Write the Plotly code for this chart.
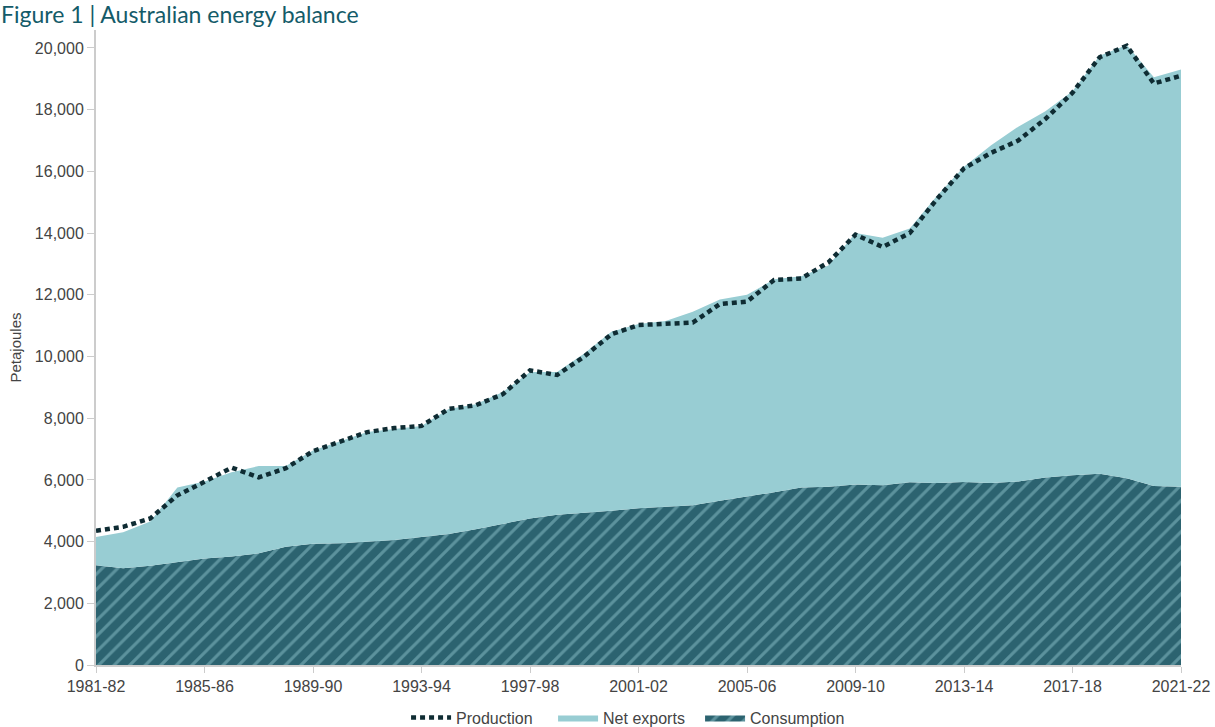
import plotly.graph_objects as go

years = ["1981-82","1982-83","1983-84","1984-85","1985-86","1986-87","1987-88","1988-89",
         "1989-90","1990-91","1991-92","1992-93","1993-94","1994-95","1995-96","1996-97",
         "1997-98","1998-99","1999-00","2000-01","2001-02","2002-03","2003-04","2004-05",
         "2005-06","2006-07","2007-08","2008-09","2009-10","2010-11","2011-12","2012-13",
         "2013-14","2014-15","2015-16","2016-17","2017-18","2018-19","2019-20","2020-21",
         "2021-22"]

consumption = [3230,3140,3220,3330,3450,3520,3620,3830,3930,3950,3990,4050,4150,4250,4400,4580,
               4750,4870,4930,5000,5080,5120,5180,5320,5450,5600,5750,5780,5850,5830,5920,5900,
               5930,5900,5950,6080,6150,6200,6050,5800,5780]

net_exports = [920,1160,1430,2420,2500,2730,2830,2620,3020,3300,3560,3600,3600,4050,4050,4270,
               4750,4630,5170,5800,5970,6030,6270,6530,6550,6900,6850,7170,8150,8020,8230,9300,
               10220,10950,11500,11870,12450,13550,14050,13250,13520]

production = [4350,4480,4750,5500,5940,6400,6080,6380,6930,7240,7550,7680,7750,8300,8420,8780,
              9550,9400,10000,10720,11020,11060,11100,11700,11780,12480,12530,13050,13950,13550,
              14000,15100,16100,16600,17000,17700,18550,19700,20070,18850,19100]

x_ticks = ["1981-82","1985-86","1989-90","1993-94","1997-98","2001-02","2005-06",
           "2009-10","2013-14","2017-18","2021-22"]
y_ticks = [0,2000,4000,6000,8000,10000,12000,14000,16000,18000,20000]

dark_teal = "#2c6370"
light_teal = "#98cdd3"
axis_grey = "#cccccc"
text_grey = "#444444"

fig = go.Figure()
fig.add_trace(go.Scatter(
    x=years, y=consumption, name="Consumption", mode="lines", stackgroup="one",
    line=dict(width=0, color=dark_teal), fillcolor=dark_teal,
    fillpattern=dict(shape="/", bgcolor=dark_teal, fgcolor="#8cc2c9", size=11, solidity=0.28),
    legendrank=3, hoverinfo="x+y"))
fig.add_trace(go.Scatter(
    x=years, y=net_exports, name="Net exports", mode="lines", stackgroup="one",
    line=dict(width=0, color=light_teal), fillcolor=light_teal,
    legendrank=2, hoverinfo="x+y"))
fig.add_trace(go.Scatter(
    x=years, y=production, name="Production", mode="lines",
    line=dict(width=4.5, color="#0f2c33", dash="5px,4px"),
    legendrank=1))

fig.update_layout(
    width=1215, height=727,
    margin=dict(l=96, r=34, t=30, b=62, autoexpand=False),
    paper_bgcolor="white", plot_bgcolor="white",
    font=dict(family="Liberation Sans, Arial, sans-serif", size=16, color=text_grey),
    title=dict(text="Figure 1 | Australian energy balance", x=1/1215, xref="container",
               xanchor="left", y=1 - 15/727, yref="container", yanchor="middle",
               pad=dict(l=0, t=0, b=0, r=0),
               font=dict(family="Lato, sans-serif", size=23, color="#145b69")),
    showlegend=True,
    legend=dict(orientation="h", x=0.489, xanchor="center", y=-0.083, yanchor="middle",
                font=dict(size=16, color=text_grey), traceorder="normal",
                itemwidth=40, entrywidth=92, entrywidthmode="pixels",
                bgcolor="rgba(0,0,0,0)"),
    xaxis=dict(type="category", range=[0, len(years) - 1], tickmode="array",
               tickvals=x_ticks, ticktext=x_ticks, showgrid=False, zeroline=False,
               showline=True, linecolor=axis_grey, linewidth=2, automargin=False,
               ticks="outside", ticklen=6, tickcolor=axis_grey,
               tickfont=dict(size=16, color=text_grey)),
    yaxis=dict(range=[0, 20583], tickmode="array", tickvals=y_ticks, tickformat=",",
               showgrid=False, zeroline=False, showline=True, linecolor=axis_grey,
               linewidth=2, ticks="outside", ticklen=7, tickcolor=axis_grey, automargin=False,
               tickfont=dict(size=16, color=text_grey),
               title=dict(text="Petajoules", font=dict(size=15, color=text_grey), standoff=10)),
)

fig.write_html("out.html", config={"displayModeBar": False},
               post_script="document.body.style.margin='0';")
